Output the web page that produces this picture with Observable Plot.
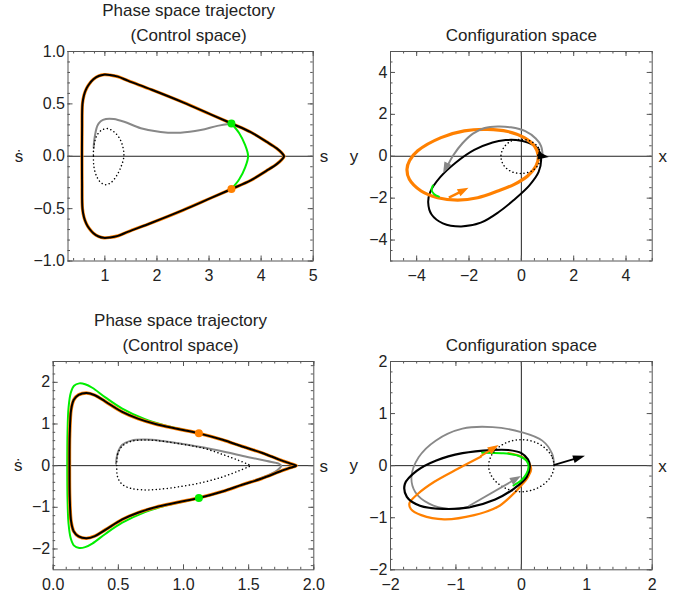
<!DOCTYPE html>
<html><head><meta charset="utf-8">
<script src="https://cdn.jsdelivr.net/npm/d3@7"></script>
<script src="https://cdn.jsdelivr.net/npm/@observablehq/plot@0.6"></script>
<style>
body{margin:0;background:#fff;}
#wrap{position:relative;width:688px;height:599px;overflow:hidden;}
#wrap > svg{position:absolute;}
</style></head><body><div id="wrap"></div>
<script>
// ---------- Panel 1 (top-left): phase space (s, ṡ) ----------
const p1Loop = [[0.56,0],[0.562,0.25],[0.57,0.5],[0.6,0.585],[0.645,0.645],[0.7,0.69],[0.78,0.735],[0.88,0.766],[0.98,0.779],[1.1,0.775],[1.25,0.76],[1.45,0.72],[1.9,0.635],[2.5,0.515],[3.03,0.40],[3.43,0.313],[3.8,0.23],[4.1,0.14],[4.3,0.075],[4.4,0.03],[4.44,0],
  [4.4,-0.03],[4.3,-0.075],[4.1,-0.14],[3.8,-0.23],[3.43,-0.313],[3.03,-0.40],[2.5,-0.515],[1.9,-0.635],[1.45,-0.72],[1.25,-0.76],[1.1,-0.775],[0.98,-0.779],[0.88,-0.766],[0.78,-0.735],[0.7,-0.69],[0.645,-0.645],[0.6,-0.585],[0.57,-0.5],[0.562,-0.25]];
const p1Gray = [[3.43,0.313],[3.16,0.29],[2.84,0.25],[2.45,0.225],[2.07,0.232],[1.69,0.268],[1.37,0.33],[1.17,0.356],[1.02,0.356],[0.92,0.335],[0.855,0.29],[0.82,0.225],[0.795,0.15],[0.785,0.08]];
const p1Dotted = [[0.785,0.08],[0.78,0],[0.79,-0.1],[0.84,-0.19],[0.92,-0.25],[1.02,-0.272],[1.12,-0.25],[1.22,-0.19],[1.31,-0.1],[1.365,0],[1.34,0.1],[1.27,0.18],[1.17,0.235],[1.05,0.264],[0.94,0.25],[0.86,0.21],[0.81,0.15]];
const p1Green = [[3.43,0.313],[3.58,0.22],[3.69,0.11],[3.75,0],[3.69,-0.11],[3.58,-0.22],[3.43,-0.313]];
const p1GreenDot = [[3.43,0.313]];
const p1OrangeDot = [[3.43,-0.313]];
const p1XTicks = [1,2,3,4,5];
const p1YTicks = [-1,-0.5,0,0.5,1];

// ---------- Panel 2 (top-right): configuration space ----------
const p2Orange = [[0.65,0.02],[0.5,0.49],[0.11,0.89],[-0.52,1.18],[-1.29,1.28],[-2.18,1.21],[-3.07,0.89],[-3.96,0.26],[-4.27,-0.2],[-4.37,-0.62],[-4.28,-1.1],[-3.83,-1.66],[-3.2,-1.98],[-2.43,-2.09],[-1.67,-1.98],[-0.9,-1.66],[-0.27,-1.34],[0.24,-0.94],[0.56,-0.46]];
const p2Black = [[0.75,-0.05],[0.6,0.4],[0.25,0.65],[-0.2,0.77],[-0.6,0.77],[-1.1,0.66],[-1.8,0.3],[-2.5,-0.3],[-3.1,-1.0],[-3.48,-1.7],[-3.56,-2.2],[-3.43,-2.78],[-3.0,-3.2],[-2.3,-3.35],[-1.55,-3.17],[-0.85,-2.65],[-0.3,-2.1],[0.3,-1.4],[0.66,-0.75]];
const p2Gray = [[0.82,-0.05],[0.75,0.5],[0.55,0.85],[0.15,1.2],[-0.4,1.38],[-0.9,1.42],[-1.4,1.35],[-1.85,1.08],[-2.25,0.62],[-2.6,0.05],[-2.8,-0.4]];
const p2Green = [[-3.38,-1.4],[-3.43,-1.6],[-3.34,-1.8],[-3.15,-1.93]];
const p2Dotted = [[0.75,0],[0.65,0.42],[0.35,0.72],[0,0.8],[-0.4,0.72],[-0.68,0.4],[-0.78,0],[-0.68,-0.42],[-0.4,-0.72],[0,-0.82],[0.4,-0.7],[0.65,-0.4]];
const p2ArrowBlack = [[0.62,0.02,1.07,-0.06]];
const p2ArrowOrange = [[-2.75,-2.0,-2.0,-1.53]];
const p2ArrowGray = [[-2.8,-0.4,-2.97,-0.83]];
const p2Ticks = [-4,-2,0,2,4];

// ---------- Panel 3 (bottom-left): phase space ----------
const p3Green = [[0.108,0],[0.11,0.8],[0.118,1.4],[0.135,1.75],[0.16,1.92],[0.2,1.975],[0.245,1.955],[0.3,1.87],[0.4,1.64],[0.53,1.37],[0.7,1.12],[0.85,0.97],[1.0,0.86],[1.118,0.78],[1.3,0.62],[1.45,0.46],[1.6,0.31],[1.74,0.14],[1.82,0.05],[1.865,0],
  [1.82,-0.05],[1.74,-0.14],[1.6,-0.31],[1.45,-0.46],[1.3,-0.62],[1.118,-0.78],[1.0,-0.86],[0.85,-0.97],[0.7,-1.12],[0.53,-1.37],[0.4,-1.64],[0.3,-1.87],[0.245,-1.955],[0.2,-1.975],[0.16,-1.92],[0.135,-1.75],[0.118,-1.4],[0.11,-0.8]];
const p3Black = [[0.125,0],[0.127,0.76],[0.138,1.35],[0.158,1.58],[0.195,1.7],[0.255,1.745],[0.32,1.69],[0.4,1.54],[0.53,1.29],[0.65,1.13],[0.785,1.0],[0.95,0.885],[1.118,0.775],[1.3,0.62],[1.45,0.46],[1.6,0.31],[1.74,0.14],[1.82,0.05],[1.865,0],
  [1.82,-0.05],[1.74,-0.14],[1.6,-0.31],[1.45,-0.46],[1.3,-0.62],[1.118,-0.775],[0.95,-0.885],[0.785,-1.0],[0.65,-1.13],[0.53,-1.29],[0.4,-1.54],[0.32,-1.69],[0.255,-1.745],[0.195,-1.7],[0.158,-1.58],[0.138,-1.35],[0.127,-0.76]];
const p3Gray = [[1.52,-0.38],[1.6,-0.29],[1.67,-0.2],[1.72,-0.11],[1.75,0],[1.73,0.05],[1.64,0.11],[1.49,0.21],[1.26,0.37],[1.03,0.5],[0.82,0.6],[0.7,0.625],[0.6,0.6],[0.53,0.5],[0.495,0.3],[0.482,0.05]];
const p3Dotted = [[0.488,0],[0.495,0.28],[0.53,0.47],[0.59,0.575],[0.68,0.615],[0.8,0.6],[0.98,0.52],[1.15,0.42],[1.3,0.27],[1.42,0.13],[1.49,0.04],[1.515,0],[1.49,-0.04],[1.42,-0.13],[1.3,-0.27],[1.15,-0.4],[0.98,-0.5],[0.8,-0.57],[0.68,-0.58],[0.59,-0.54],[0.53,-0.45],[0.495,-0.28]];
const p3OrangeDot = [[1.118,0.775]];
const p3GreenDot = [[1.118,-0.775]];
const p3XTicks = [0,0.5,1,1.5,2];
const p3YTicks = [-2,-1,0,1,2];

// ---------- Panel 4 (bottom-right): configuration space ----------
const p4Black = [[0.13,0],[0.1,0.12],[0.0,0.24],[-0.2,0.3],[-0.45,0.3],[-0.9,0.24],[-1.3,0.1],[-1.6,-0.1],[-1.78,-0.35],[-1.75,-0.6],[-1.55,-0.77],[-1.2,-0.83],[-0.8,-0.8],[-0.4,-0.65],[-0.1,-0.43],[0.08,-0.22]];
const p4Green = [[-0.6,0.25],[-0.3,0.24],[-0.05,0.19],[0.08,0.09],[0.11,-0.02],[0.08,-0.15],[0.0,-0.28],[-0.12,-0.38]];
const p4Orange = [[-0.2,0.24],[0.05,0.14],[0.15,-0.06],[0.1,-0.22],[0.0,-0.38],[-0.17,-0.6],[-0.36,-0.79],[-0.72,-0.95],[-1.18,-1.03],[-1.53,-0.95],[-1.69,-0.83],[-1.71,-0.72],[-1.58,-0.54],[-1.33,-0.31],[-0.97,-0.06],[-0.62,0.17]];
const p4Gray = [[0.5,0],[0.47,0.23],[0.32,0.48],[0.01,0.64],[-0.44,0.74],[-0.9,0.71],[-1.31,0.48],[-1.57,0.16],[-1.68,-0.22],[-1.62,-0.51],[-1.41,-0.73],[-1.11,-0.83],[-0.8,-0.79]];
const p4Dotted = [[0.5,0],[0.46,0.19],[0.35,0.35],[0.19,0.46],[0,0.5],[-0.19,0.46],[-0.35,0.35],[-0.46,0.19],[-0.5,0],[-0.46,-0.19],[-0.35,-0.35],[-0.19,-0.46],[0,-0.5],[0.19,-0.46],[0.35,-0.35],[0.46,-0.19]];
const p4ArrowBlack = [[0.5,0,0.98,0.18]];
const p4ArrowOrange = [[-0.62,0.17,-0.34,0.385]];
const p4ArrowGray = [[-0.8,-0.79,0.0,-0.21]];
const p4Ticks = [-2,-1,0,1,2];

// ---------- styles ----------
const ORANGE = "#ff8000", GREEN = "#00ee00", GRAY = "#888888", BLACK = "#000";
const FRAME = "#555", AXIS = "#222";
const FONT = "'Liberation Sans', Arial, sans-serif";
const SVGNS = "http://www.w3.org/2000/svg";
const fmt1 = d => (d < 0 ? "\u2212" : "") + Math.abs(d).toFixed(1);
const fmt0 = d => (d < 0 ? "\u2212" : "") + Math.abs(d);
const px = d => d[0], py = d => d[1];

function line(data, stroke, width, closed = false, extra = {}) {
  return Plot.line(data, {x: px, y: py, stroke, strokeWidth: width, curve: closed ? "catmull-rom-closed" : "catmull-rom", strokeLinejoin: "round", ...extra});
}
function dotted(data, closed) {
  return line(data, BLACK, 1.5, closed, {strokeDasharray: "0.1,3.6", strokeLinecap: "round"});
}
function arrowMark(list, color, {len = 11, half = 4, width = 2} = {}) {
  return (index, scales) => {
    const {x, y} = scales;
    const g = document.createElementNS(SVGNS, "g");
    for (const [a1, b1, a2, b2] of list) {
      const X1 = x(a1), Y1 = y(b1), X2 = x(a2), Y2 = y(b2);
      const t = Math.atan2(Y2 - Y1, X2 - X1), c = Math.cos(t), s = Math.sin(t);
      const bx = X2 - len * c, by = Y2 - len * s;
      const ln = document.createElementNS(SVGNS, "line");
      ln.setAttribute("x1", X1); ln.setAttribute("y1", Y1);
      ln.setAttribute("x2", bx + 2 * c); ln.setAttribute("y2", by + 2 * s);
      ln.setAttribute("stroke", color); ln.setAttribute("stroke-width", width);
      const hd = document.createElementNS(SVGNS, "path");
      hd.setAttribute("d", `M${X2},${Y2}L${bx - half * s},${by + half * c}L${bx + half * s},${by - half * c}Z`);
      hd.setAttribute("fill", color);
      g.append(ln, hd);
    }
    return g;
  };
}

function panel(o) {
  const [x0, x1] = o.xDom, [y0, y1] = o.yDom;
  const ticksX = (vals, len) => [
    Plot.ruleX(vals, {x: d => d, y1: () => y0, y2: () => y0, insetBottom: len, stroke: FRAME}),
    Plot.ruleX(vals, {x: d => d, y1: () => y1, y2: () => y1, insetTop: len, stroke: FRAME})
  ];
  const ticksY = (vals, len) => [
    Plot.ruleY(vals, {y: d => d, x1: () => x0, x2: () => x0, insetLeft: len, stroke: FRAME}),
    Plot.ruleY(vals, {y: d => d, x1: () => x1, x2: () => x1, insetRight: len, stroke: FRAME})
  ];
  const marks = [
    Plot.ruleY([0], {stroke: AXIS, strokeWidth: 1}),
    ...(o.vAxis ? [Plot.ruleX([0], {stroke: AXIS, strokeWidth: 1})] : []),
    ...o.marks,
    ...ticksX(o.xMinor, 2.5), ...ticksX(o.xMajor, 5),
    ...ticksY(o.yMinor, 2.5), ...ticksY(o.yMajor, 5),
    Plot.frame({stroke: FRAME, strokeWidth: 1}),
    Plot.axisX(o.xMajor, {anchor: "bottom", tickSize: 0, tickPadding: 9, tickFormat: o.xFmt, label: null}),
    Plot.axisY(o.yMajor, {anchor: "left", tickSize: 0, tickPadding: 3, tickFormat: o.yFmt, label: null}),
    ...o.titles.map((t, i) => Plot.text([t], {frameAnchor: "top", lineAnchor: "middle", dy: o.titleDy[i], dx: o.titleDx, fontSize: 17})),
    Plot.text([o.xLab], {frameAnchor: "right", lineAnchor: "middle", y: () => 0, dx: o.xLabDx, dy: 0.5, textAnchor: "middle", fontSize: 17}),
    Plot.text([o.yLab], {frameAnchor: "left", lineAnchor: "middle", y: () => 0, dx: o.yLabDx, textAnchor: "middle", fontSize: 17})
  ];
  const svg = Plot.plot({
    width: o.width, height: o.height,
    marginLeft: o.mL, marginRight: o.mR, marginTop: o.mT, marginBottom: o.mB,
    x: {domain: o.xDom}, y: {domain: o.yDom},
    style: {fontFamily: FONT, fontSize: "16px", color: "#222", background: "transparent", overflow: "visible"},
    marks
  });
  svg.style.left = o.left + "px";
  svg.style.top = o.top + "px";
  document.getElementById("wrap").append(svg);
}

// Panel 1
panel({
  left: 0, top: 0, width: 344, height: 300, mL: 67.5, mR: 31.3, mT: 51, mB: 39.5,
  xDom: [0.292, 5], yDom: [-1, 1],
  xMajor: p1XTicks, xMinor: d3.range(0.4, 5.001, 0.2),
  yMajor: p1YTicks, yMinor: d3.range(-1, 1.001, 0.1),
  xFmt: fmt0, yFmt: fmt1,
  titles: ["Phase space trajectory", "(Control space)"], titleDy: [-40.5, -16], titleDx: -2,
  xLab: "s", yLab: "\u1E61", xLabDx: 10.8, yLabDx: -49,
  vAxis: false,
  marks: [
    line(p1Loop, ORANGE, 3.2, true),
    line(p1Loop, BLACK, 2, true),
    line(p1Gray, GRAY, 2),
    dotted(p1Dotted, true),
    line(p1Green, GREEN, 2),
    Plot.dot(p1GreenDot, {x: px, y: py, r: 4, fill: GREEN, stroke: "none"}),
    Plot.dot(p1OrangeDot, {x: px, y: py, r: 4, fill: ORANGE, stroke: "none"})
  ]
});

// Panel 2
panel({
  left: 344, top: 0, width: 344, height: 300, mL: 46, mR: 36.3, mT: 51, mB: 39.5,
  xDom: [-5, 5], yDom: [-5, 5],
  xMajor: p2Ticks, xMinor: d3.range(-5, 5.001, 0.5),
  yMajor: p2Ticks, yMinor: d3.range(-5, 5.001, 0.5),
  xFmt: fmt0, yFmt: fmt0,
  titles: ["Configuration space"], titleDy: [-15.5], titleDx: 0,
  xLab: "x", yLab: "y", xLabDx: 10.5, yLabDx: -36.5,
  vAxis: true,
  marks: [
    line(p2Black, BLACK, 2, true),
    line(p2Orange, ORANGE, 3.2, true),
    line(p2Gray, GRAY, 2),
    line(p2Green, GREEN, 2),
    dotted(p2Dotted, true),
    arrowMark(p2ArrowOrange, ORANGE, {width: 2.5}),
    arrowMark(p2ArrowGray, GRAY),
    arrowMark(p2ArrowBlack, BLACK)
  ]
});

// Panel 3
panel({
  left: 0, top: 300, width: 344, height: 299, mL: 52.7, mR: 30.7, mT: 61, mB: 29.7,
  xDom: [0, 2], yDom: [-2.5, 2.5],
  xMajor: p3XTicks, xMinor: d3.range(0, 2.001, 0.1),
  yMajor: p3YTicks, yMinor: d3.range(-2.4, 2.401, 0.2),
  xFmt: fmt1, yFmt: fmt0,
  titles: ["Phase space trajectory", "(Control space)"], titleDy: [-40.5, -16], titleDx: -3,
  xLab: "s", yLab: "\u1E61", xLabDx: 10, yLabDx: -35,
  vAxis: false,
  marks: [
    line(p3Green, GREEN, 2, true),
    line(p3Gray, GRAY, 2),
    line(p3Black, ORANGE, 3.4, true),
    line(p3Black, BLACK, 2, true),
    dotted(p3Dotted, true),
    Plot.dot(p3OrangeDot, {x: px, y: py, r: 4, fill: ORANGE, stroke: "none"}),
    Plot.dot(p3GreenDot, {x: px, y: py, r: 4, fill: GREEN, stroke: "none"})
  ]
});

// Panel 4
panel({
  left: 344, top: 300, width: 344, height: 299, mL: 46, mR: 36.3, mT: 61, mB: 29.7,
  xDom: [-2, 2], yDom: [-2, 2],
  xMajor: p4Ticks, xMinor: d3.range(-2, 2.001, 0.2),
  yMajor: p4Ticks, yMinor: d3.range(-2, 2.001, 0.2),
  xFmt: fmt0, yFmt: fmt0,
  titles: ["Configuration space"], titleDy: [-15.5], titleDx: 0,
  xLab: "x", yLab: "y", xLabDx: 10.3, yLabDx: -36.7,
  vAxis: true,
  marks: [
    line(p4Gray, GRAY, 1.8),
    line(p4Orange, ORANGE, 2.2),
    line(p4Black, BLACK, 2.2, true),
    line(p4Green, GREEN, 2),
    dotted(p4Dotted, true),
    arrowMark(p4ArrowOrange, ORANGE),
    arrowMark(p4ArrowGray, GRAY, {width: 1.8}),
    arrowMark(p4ArrowBlack, BLACK, {width: 1.8, len: 12})
  ]
});
</script></body></html>
